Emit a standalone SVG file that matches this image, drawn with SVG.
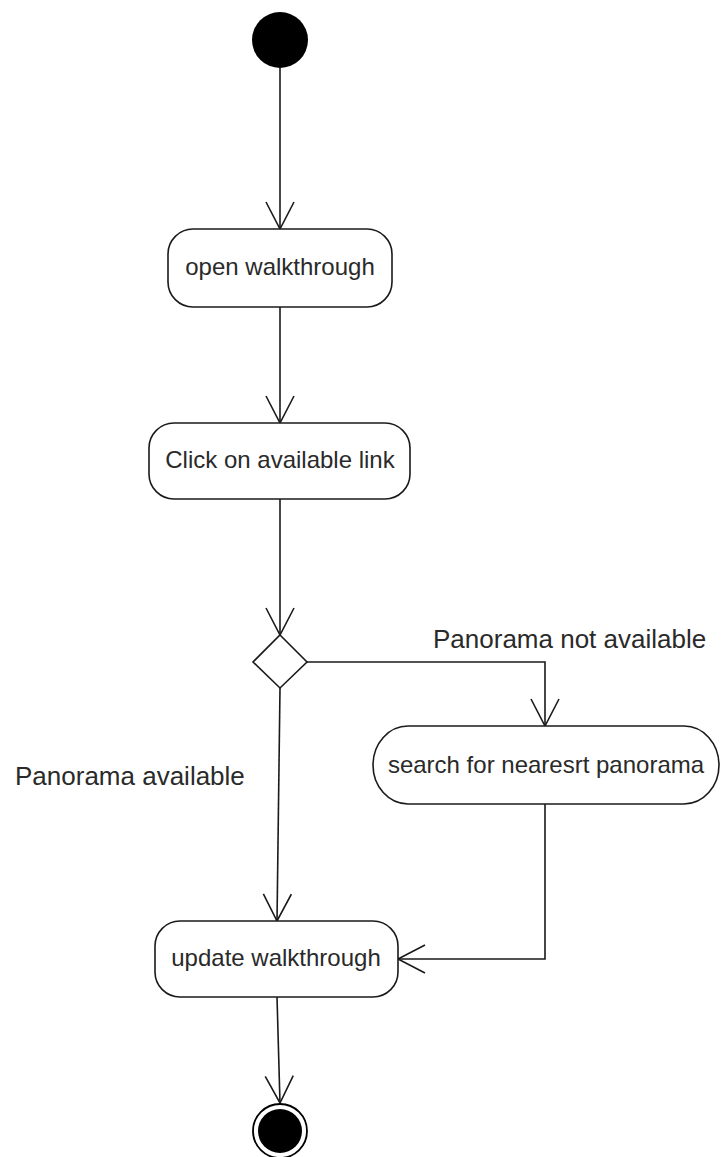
<svg xmlns="http://www.w3.org/2000/svg" width="723" height="1157" viewBox="0 0 723 1157">
  <style>
    .node { fill: #ffffff; stroke: #1a1a1a; stroke-width: 1.6; }
    .label { font-family: "Liberation Sans", Arial, sans-serif; font-size: 24px; fill: #2a2a2a; text-anchor: middle; }
    .guard { font-family: "Liberation Sans", Arial, sans-serif; font-size: 26px; fill: #2a2a2a; }
    .flow { fill: none; stroke: #1a1a1a; stroke-width: 1.6; marker-end: url(#open-arrow); }
  </style>
  <defs>
    <marker id="open-arrow" viewBox="0 0 30 30" refX="28" refY="15" markerWidth="30" markerHeight="30" markerUnits="userSpaceOnUse" orient="auto">
      <path d="M1,1 L28,15 L1,29" fill="none" stroke="#1a1a1a" stroke-width="1.6"/>
    </marker>
  </defs>
  <rect width="723" height="1157" fill="#ffffff"/>

  <!-- control flows -->
  <g id="connectors">
    <path class="flow" d="M280,68 L280,229"/>
    <path class="flow" d="M280,307 L280,423"/>
    <path class="flow" d="M280,499 L280,635"/>
    <path class="flow" d="M307,662 L545,662 L545,726"/>
    <path class="flow" d="M280,688 L277,921"/>
    <path class="flow" d="M545,804 L545,959 L398,959"/>
    <path class="flow" d="M277,997 L280,1103"/>
    <text class="guard" x="433" y="648">Panorama not available</text>
    <text class="guard" x="15" y="785">Panorama available</text>
  </g>

  <g id="start">
    <circle cx="280" cy="40" r="28" fill="#000000"/>
  </g>

  <g id="open-walkthrough">
    <rect class="node" x="168" y="229" width="224" height="78" rx="25" ry="25"/>
    <text class="label" x="280" y="275">open walkthrough</text>
  </g>

  <g id="click-link">
    <rect class="node" x="149" y="423" width="261" height="76" rx="25" ry="25"/>
    <text class="label" x="280" y="468">Click on available link</text>
  </g>

  <g id="decision">
    <polygon class="node" points="280,635 307,662 280,688 253,662"/>
  </g>

  <g id="search-panorama">
    <rect class="node" x="373" y="726" width="346" height="78" rx="35" ry="39"/>
    <text class="label" x="546" y="773">search for nearesrt panorama</text>
  </g>

  <g id="update-walkthrough">
    <rect class="node" x="155" y="921" width="243" height="76" rx="25" ry="25"/>
    <text class="label" x="276" y="966">update walkthrough</text>
  </g>

  <g id="end">
    <circle cx="280" cy="1131" r="27" fill="#ffffff" stroke="#000000" stroke-width="1.8"/>
    <circle cx="280" cy="1131" r="22" fill="#000000"/>
  </g>
</svg>
